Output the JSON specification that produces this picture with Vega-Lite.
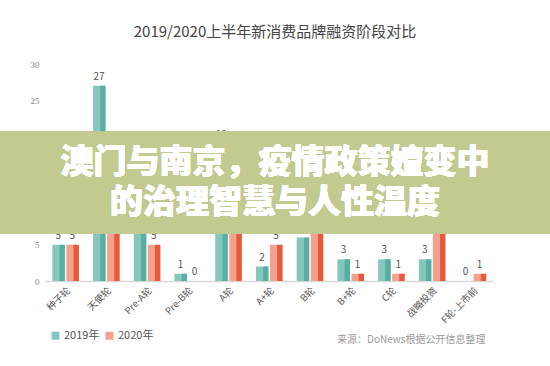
{
  "$schema": "https://vega.github.io/schema/vega-lite/v6.json",
  "width": 448,
  "height": 217,
  "autosize": {"type": "none"},
  "padding": {"left": 45, "top": 64, "right": 57, "bottom": 85},
  "background": "white",
  "title": {
    "text": "2019/2020上半年新消费品牌融资阶段对比",
    "font": "Noto Sans CJK SC",
    "fontSize": 15,
    "fontWeight": "normal",
    "color": "#444444",
    "anchor": "middle",
    "dx": 6,
    "offset": 20
  },
  "config": {
    "view": {"stroke": null},
    "font": "Noto Sans CJK SC"
  },
  "data": {
    "values": [
      {"stage": "种子轮", "year": "2019年", "count": 5},
      {"stage": "种子轮", "year": "2020年", "count": 5},
      {"stage": "天使轮", "year": "2019年", "count": 27},
      {"stage": "天使轮", "year": "2020年", "count": 17},
      {"stage": "Pre-A轮", "year": "2019年", "count": 9},
      {"stage": "Pre-A轮", "year": "2020年", "count": 5},
      {"stage": "Pre-B轮", "year": "2019年", "count": 1},
      {"stage": "Pre-B轮", "year": "2020年", "count": 0},
      {"stage": "A轮", "year": "2019年", "count": 19},
      {"stage": "A轮", "year": "2020年", "count": 14},
      {"stage": "A+轮", "year": "2019年", "count": 2},
      {"stage": "A+轮", "year": "2020年", "count": 5},
      {"stage": "B轮", "year": "2019年", "count": 6},
      {"stage": "B轮", "year": "2020年", "count": 8},
      {"stage": "B+轮", "year": "2019年", "count": 3},
      {"stage": "B+轮", "year": "2020年", "count": 1},
      {"stage": "C轮", "year": "2019年", "count": 3},
      {"stage": "C轮", "year": "2020年", "count": 1},
      {"stage": "战略投资", "year": "2019年", "count": 3},
      {"stage": "战略投资", "year": "2020年", "count": 9},
      {"stage": "F轮-上市前", "year": "2019年", "count": 0},
      {"stage": "F轮-上市前", "year": "2020年", "count": 1}
    ]
  },
  "encoding": {
    "x": {
      "field": "stage",
      "type": "nominal",
      "sort": null,
      "scale": {"paddingInner": 0.36, "paddingOuter": 0.18},
      "axis": {
        "title": "来源：DoNews根据公开信息整理",
        "titleFont": "Noto Sans CJK SC",
        "titleFontSize": 10,
        "titleFontWeight": "normal",
        "titleColor": "#999999",
        "titleAnchor": "end",
        "titleAlign": "right",
        "titleBaseline": "middle",
        "titleX": 440,
        "titleY": 58,
        "labelAngle": -45,
        "labelFontSize": 9.5,
        "labelColor": "#555555",
        "labelPadding": 4,
        "ticks": false,
        "domainColor": "#d9d9d9",
        "domainWidth": 1.5
      }
    },
    "y": {
      "field": "count",
      "type": "quantitative",
      "scale": {"domain": [0, 30], "nice": false},
      "axis": {
        "title": null,
        "values": [0, 5, 10, 15, 20, 25, 30],
        "grid": false,
        "domain": false,
        "ticks": false,
        "labelFont": "Liberation Serif",
        "labelFontSize": 9,
        "labelColor": "#888888",
        "labelPadding": 6
      }
    },
    "xOffset": {
      "field": "year",
      "type": "nominal",
      "scale": {"paddingInner": 0.14, "paddingOuter": 0}
    }
  },
  "layer": [
    {
      "mark": {"type": "bar"},
      "encoding": {
        "color": {
          "field": "year",
          "type": "nominal",
          "scale": {"domain": ["2019年", "2020年"], "range": ["#86c7bd", "#f4a28e"]},
          "legend": {
            "title": null,
            "orient": "none",
            "legendX": 5,
            "legendY": 266,
            "direction": "horizontal",
            "symbolType": "square",
            "symbolSize": 64,
            "symbolStrokeWidth": 0,
            "labelFontSize": 11,
            "labelColor": "#555555",
            "labelOffset": 3,
            "columnPadding": 4
          }
        }
      }
    },
    {
      "mark": {"type": "bar", "width": {"band": 0.45}, "xOffset": 3.3},
      "encoding": {
        "fill": {
          "field": "year",
          "type": "nominal",
          "scale": {"domain": ["2019年", "2020年"], "range": ["#57aea2", "#e8593b"]},
          "legend": null
        }
      }
    },
    {
      "mark": {"type": "text", "dy": -9, "fontSize": 10, "color": "#555555"},
      "encoding": {"text": {"field": "count", "type": "quantitative"}}
    },
    {
      "mark": {"type": "rect", "color": "#c3ca90", "opacity": 0.9, "xOffset": -45, "x2Offset": 57},
      "encoding": {
        "x": {"value": 0},
        "x2": {"value": 448},
        "y": {"datum": 20.7},
        "y2": {"datum": 6.6},
        "xOffset": null
      }
    },
    {
      "mark": {"type": "text", "text": "澳门与南京，疫情政策嬗变中", "font": "Noto Sans CJK SC", "fontSize": 33, "fontWeight": 900, "color": "white", "dx": 6, "baseline": "middle"},
      "encoding": {"x": {"value": 224}, "y": {"datum": 16.3}, "xOffset": null}
    },
    {
      "mark": {"type": "text", "text": "的治理智慧与人性温度", "font": "Noto Sans CJK SC", "fontSize": 33, "fontWeight": 900, "color": "white", "dx": 6, "baseline": "middle"},
      "encoding": {"x": {"value": 224}, "y": {"datum": 10.8}, "xOffset": null}
    }
  ]
}
